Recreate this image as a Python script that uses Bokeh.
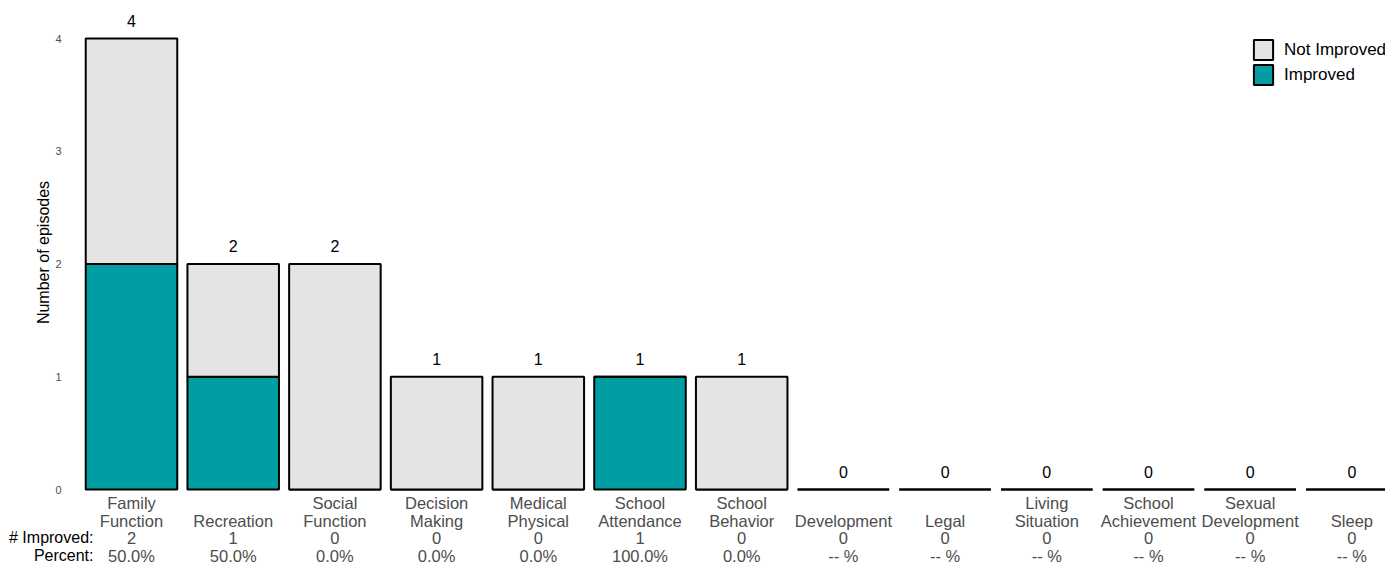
import math
from bokeh.plotting import figure
from bokeh.models import ColumnDataSource, Legend, LegendItem
from bokeh.core.properties import value
from bokeh.embed import file_html
from bokeh.resources import INLINE

# ---- data ----
categories = ["Family Function", "Recreation", "Social Function", "Decision Making",
              "Medical Physical", "School Attendance", "School Behavior", "Development",
              "Legal", "Living Situation", "School Achievement", "Sexual Development", "Sleep"]
label_line1 = ["Family", "", "Social", "Decision", "Medical", "School", "School",
               "", "", "Living", "School", "Sexual", ""]
label_line2 = ["Function", "Recreation", "Function", "Making", "Physical", "Attendance",
               "Behavior", "Development", "Legal", "Situation", "Achievement",
               "Development", "Sleep"]
improved = [2, 1, 0, 0, 0, 1, 0, 0, 0, 0, 0, 0, 0]
not_improved = [2, 1, 2, 1, 1, 0, 1, 0, 0, 0, 0, 0, 0]
y_ticks = [0, 1, 2, 3, 4]
row_labels = ["# Improved:", "Percent:"]
y_title = "Number of episodes"

FONT = "Liberation Sans"
TEAL = "#009EA2"
GRAY = "#E4E4E4"
TXT_GRAY = "#4D4D4D"

n = len(categories)
xs = list(range(n))
totals = [a + b for a, b in zip(improved, not_improved)]
pct = [("%.1f%%" % (100.0 * a / t)) if t > 0 else "-- %" for a, t in zip(improved, totals)]

src = ColumnDataSource(dict(
    x=xs, improved=improved, not_improved=not_improved, total=totals,
    total_lbl=[str(t) for t in totals], imp_lbl=[str(a) for a in improved], pct=pct,
    l1=label_line1, l2=label_line2,
))

# layout: figure fills the window; frame spans the whole figure
W, H = 1385, 567
PXX = 101.7     # px per category
PXY = 112.75    # px per count
X0_PX = 131     # page x of first category centre
Y0_PX = 489     # page y of count 0

def dx(px):
    return (px - X0_PX) / PXX

def dy(px):
    return (Y0_PX - px) / PXY

p = figure(width=W, height=H, x_range=(dx(0), dx(W)), y_range=(dy(H), dy(0)),
           output_backend="svg", toolbar_location=None,
           x_axis_location=None, y_axis_location=None,
           min_border_left=0, min_border_right=0, min_border_top=0, min_border_bottom=0)
p.outline_line_color = None
p.xgrid.visible = False
p.ygrid.visible = False
p.background_fill_color = "white"

rs = p.vbar_stack(["improved", "not_improved"], x="x", width=0.9, source=src,
                  color=[TEAL, GRAY], line_color="black", line_width=2)
for r in rs:
    r.glyph.line_color = "black"
rs[0].glyph.fill_color = TEAL
rs[1].glyph.fill_color = GRAY

txt = dict(text_font=value(FONT), text_font_size="16px", text_baseline="middle")
cat = dict(text_font=value(FONT), text_font_size="16.5px", text_baseline="middle",
           text_align="center", text_color=TXT_GRAY)

# totals above bars
p.text(x="x", y="total", text="total_lbl", source=src, y_offset=-18,
       text_align="center", text_color="black", **txt)

# category labels and rows below bars
p.text(x="x", y=dy(502), text="l1", source=src, **cat)
p.text(x="x", y=dy(520), text="l2", source=src, **cat)
p.text(x="x", y=dy(537), text="imp_lbl", source=src, **cat)
p.text(x="x", y=dy(555), text="pct", source=src, **cat)

# row headers
p.text(x=[dx(93), dx(93)], y=[dy(537), dy(555)], text=row_labels,
       text_align="right", text_color="black", **txt)

# y tick labels
p.text(x=[dx(61)] * len(y_ticks), y=y_ticks, text=[str(t) for t in y_ticks],
       text_align="right", text_baseline="middle", text_font=value(FONT),
       text_font_size="11px", text_color=TXT_GRAY)

# y axis title
p.text(x=[dx(43)], y=[dy(252)], text=[y_title], angle=math.pi / 2,
       text_align="center", text_color="black", **txt)

legend = Legend(items=[LegendItem(label="Not Improved", renderers=[rs[1]]),
                       LegendItem(label="Improved", renderers=[rs[0]])],
                orientation="vertical")
legend.border_line_color = None
legend.background_fill_alpha = 0
legend.label_text_font = FONT
legend.label_text_font_size = "17px"
legend.label_text_color = "black"
legend.glyph_width = 24
legend.glyph_height = 25
legend.spacing = 0
legend.padding = 0
legend.margin = 0
legend.label_standoff = 9
legend.label_height = 25
legend.location = (1251, H - 37 - 50)
p.add_layout(legend)

open("out.html", "w").write(file_html(p, INLINE))
